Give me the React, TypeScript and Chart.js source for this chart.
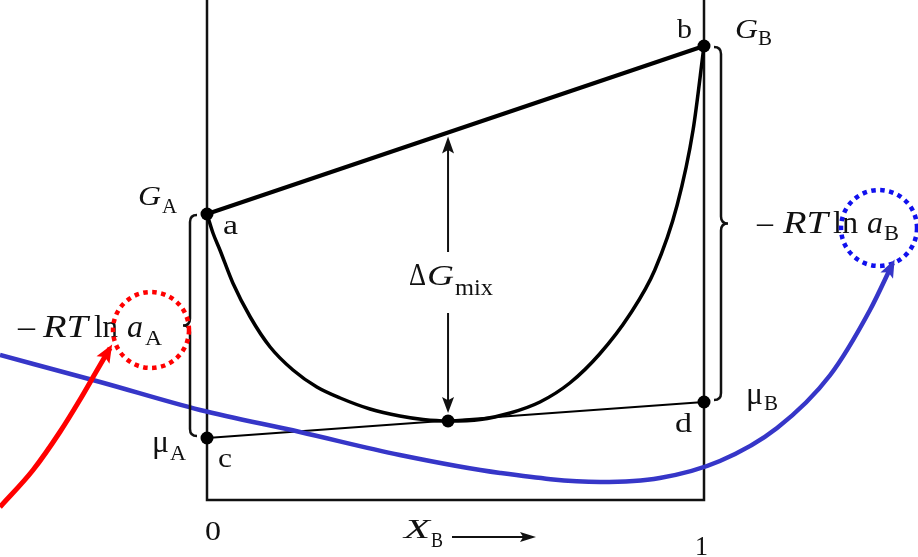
import { useEffect, useRef } from "react";
import { Chart, registerables } from "chart.js";

Chart.register(...registerables);

const SERIF = '"Liberation Serif", "DejaVu Serif", serif';

// Molar free energies of the pure components and chemical potentials (arbitrary units)
const G_A = 2.86;
const G_B = 4.54;
const MU_A = 0.62;
const MU_B = 0.98;
// Composition where the tangent c–d touches the G curve
const X_TANGENT = 0.485;
const G_TANGENT = 0.79;
const G_TOP = 5.0;

// Free energy of the solution vs. mole fraction of B
const curveX = [0, 0.012, 0.026, 0.052, 0.087, 0.127, 0.173, 0.221, 0.268, 0.328, 0.388, 0.435, 0.485, 0.55, 0.61, 0.67, 0.73, 0.79, 0.85, 0.901, 0.946, 0.978, 1];
const curveG = [2.86, 2.67, 2.5, 2.17, 1.83, 1.53, 1.3, 1.13, 1.02, 0.91, 0.84, 0.805, 0.79, 0.805, 0.87, 0.98, 1.17, 1.46, 1.85, 2.3, 2.95, 3.7, 4.54];

// Blue pointer curve towards the a_B label
const blueX = [-0.4165, -0.215, -0.014, 0.187, 0.388, 0.59, 0.791, 0.911, 1.032, 1.147, 1.254, 1.334, 1.38];
const blueG = [1.45, 1.18, 0.9, 0.68, 0.45, 0.27, 0.18, 0.22, 0.39, 0.72, 1.25, 1.9, 2.37];

// Red pointer curve towards the a_A label
const redX = [-0.4165, -0.35, -0.296, -0.256, -0.221, -0.195];
const redG = [-0.07, 0.3, 0.68, 1.0, 1.3, 1.52];

const X_MIN = -207 / 497;
const X_MAX = 711 / 497;
const Y_MIN = -0.57;
const Y_MAX = 5.0;

const BLUE = "#3636c8";
const RED = "#ff0000";

const pts = (xs: number[], ys: number[]) => xs.map((x, i) => ({ x, y: ys[i] }));

type Part = { t: string; x: number; y: number; size: number; w?: number; italic?: boolean };

function drawParts(ctx: CanvasRenderingContext2D, parts: Part[]) {
  ctx.fillStyle = "#111";
  ctx.textAlign = "left";
  ctx.textBaseline = "alphabetic";
  for (const p of parts) {
    ctx.font = `${p.italic ? "italic " : ""}${p.size}px ${SERIF}`;
    const m = ctx.measureText(p.t).width;
    const k = p.w ? p.w / m : 1;
    ctx.save();
    ctx.translate(p.x, p.y);
    ctx.scale(k, 1);
    ctx.fillText(p.t, 0, 0);
    ctx.restore();
  }
}

function brace(ctx: CanvasRenderingContext2D, x: number, y1: number, y2: number, dir: number, r: number) {
  const ym = (y1 + y2) / 2;
  ctx.beginPath();
  ctx.moveTo(x - dir * r, y1);
  ctx.quadraticCurveTo(x, y1, x, y1 + r);
  ctx.lineTo(x, ym - r);
  ctx.quadraticCurveTo(x, ym, x + dir * r, ym);
  ctx.quadraticCurveTo(x, ym, x, ym + r);
  ctx.lineTo(x, y2 - r);
  ctx.quadraticCurveTo(x, y2, x - dir * r, y2);
  ctx.stroke();
}

function arrowHead(ctx: CanvasRenderingContext2D, tx: number, ty: number, angle: number, len: number, half: number, color: string) {
  ctx.save();
  ctx.translate(tx, ty);
  ctx.rotate(angle);
  ctx.fillStyle = color;
  ctx.beginPath();
  ctx.moveTo(0, 0);
  ctx.lineTo(-len, -half);
  ctx.lineTo(-len * 0.8, 0);
  ctx.lineTo(-len, half);
  ctx.closePath();
  ctx.fill();
  ctx.restore();
}

function dottedCircle(ctx: CanvasRenderingContext2D, cx: number, cy: number, r: number, color: string) {
  ctx.save();
  ctx.strokeStyle = color;
  ctx.lineWidth = 4.5;
  ctx.setLineDash([4.5, 4.5]);
  ctx.lineCap = "butt";
  ctx.beginPath();
  ctx.arc(cx, cy, r, 0, Math.PI * 2);
  ctx.stroke();
  ctx.restore();
}

const annotations = {
  id: "annotations",
  afterDatasetsDraw(chart: any) {
    const ctx: CanvasRenderingContext2D = chart.ctx;
    const sx = chart.scales.x;
    const sy = chart.scales.y;
    const px = (v: number) => sx.getPixelForValue(v);
    const py = (v: number) => sy.getPixelForValue(v);

    ctx.save();

    // ΔG_mix double arrow between chord a–b and the curve minimum
    const ax = px(X_TANGENT);
    const yTop = py(G_A + X_TANGENT * (G_B - G_A)) + 4;
    const yBot = py(G_TANGENT) - 8;
    ctx.strokeStyle = "#111";
    ctx.lineWidth = 2;
    ctx.beginPath();
    ctx.moveTo(ax, yTop + 12);
    ctx.lineTo(ax, 252);
    ctx.moveTo(ax, 313);
    ctx.lineTo(ax, yBot - 12);
    ctx.stroke();
    arrowHead(ctx, ax, yTop, -Math.PI / 2, 17, 6, "#111");
    arrowHead(ctx, ax, yBot, Math.PI / 2, 16, 6, "#111");

    // Braces spanning G − μ at each side
    ctx.lineWidth = 2.5;
    ctx.strokeStyle = "#111";
    brace(ctx, px(0) - 17, py(G_A) + 1, py(MU_A) - 2, -1, 7);
    brace(ctx, px(1) + 17, py(G_B) + 1, py(MU_B) - 2, 1, 7);

    // X_B arrow under the axis
    ctx.lineWidth = 2;
    ctx.beginPath();
    ctx.moveTo(452, 537);
    ctx.lineTo(525, 537);
    ctx.stroke();
    arrowHead(ctx, 536, 537, 0, 16, 5, "#111");

    // Labels
    drawParts(ctx, [
      { t: "G", x: 138, y: 205, size: 28, w: 23, italic: true },
      { t: "A", x: 162, y: 213, size: 21, w: 15 },
      { t: "a", x: 223, y: 234, size: 27, w: 15 },
      { t: "b", x: 677, y: 38, size: 27, w: 15 },
      { t: "G", x: 735, y: 38, size: 28, w: 23, italic: true },
      { t: "B", x: 758, y: 45, size: 21, w: 14 },
      { t: "c", x: 218, y: 467, size: 27, w: 14 },
      { t: "d", x: 675, y: 432, size: 27, w: 17 },
      { t: "μ", x: 152, y: 452, size: 31, w: 17 },
      { t: "A", x: 170, y: 460, size: 21, w: 16 },
      { t: "μ", x: 746, y: 404, size: 31, w: 17 },
      { t: "B", x: 764, y: 410, size: 21, w: 14 },
      { t: "0", x: 205, y: 540, size: 28, w: 16 },
      { t: "1", x: 695, y: 555, size: 28, w: 13 },
      { t: "X", x: 404, y: 538, size: 28, w: 26, italic: true },
      { t: "B", x: 431, y: 547, size: 21, w: 12 },
      { t: "Δ", x: 409, y: 285, size: 31, w: 17 },
      { t: "G", x: 427, y: 285, size: 30, w: 27, italic: true },
      { t: "mix", x: 455, y: 295, size: 23, w: 38 },
      // − RT ln a_A
      { t: "–", x: 18, y: 337, size: 31, w: 17 },
      { t: "RT", x: 43, y: 337, size: 31, w: 45, italic: true },
      { t: "ln", x: 94, y: 337, size: 31, w: 24 },
      { t: "a", x: 127, y: 337, size: 31, w: 16, italic: true },
      { t: "A", x: 145, y: 345, size: 22, w: 17 },
      // − RT ln a_B
      { t: "–", x: 757, y: 233, size: 31, w: 16 },
      { t: "RT", x: 783, y: 233, size: 31, w: 45, italic: true },
      { t: "ln", x: 833, y: 233, size: 31, w: 25 },
      { t: "a", x: 867, y: 233, size: 31, w: 16, italic: true },
      { t: "B", x: 884, y: 240, size: 22, w: 15 },
    ]);

    // Dotted highlight circles around the activities
    dottedCircle(ctx, 151, 330, 38, RED);
    dottedCircle(ctx, 879, 228, 38, "#1010ee");

    // Arrow heads at the ends of the pointer curves
    const tip = (dsIndex: number, color: string, len: number, half: number) => {
      const meta = chart.getDatasetMeta(dsIndex);
      const n = meta.data.length;
      const last = meta.data[n - 1];
      let bx = last.cp1x;
      let by = last.cp1y;
      if (bx === undefined || (Math.abs(bx - last.x) < 0.5 && Math.abs(by - last.y) < 0.5)) {
        bx = meta.data[n - 2].x;
        by = meta.data[n - 2].y;
      }
      const ang = Math.atan2(last.y - by, last.x - bx);
      arrowHead(ctx, last.x + Math.cos(ang) * 4, last.y + Math.sin(ang) * 4, ang, len, half, color);
    };
    tip(6, BLUE, 18, 7);
    tip(7, RED, 18, 7.5);

    ctx.restore();
  },
};

export default function App() {
  const ref = useRef<HTMLCanvasElement | null>(null);

  useEffect(() => {
    if (!ref.current) return;
    const line = (data: any[], width: number, color: string, order: number, extra: any = {}) => ({
      data,
      showLine: true,
      borderColor: color,
      backgroundColor: color,
      borderWidth: width,
      pointRadius: 0,
      order,
      ...extra,
    });

    const chart = new Chart(ref.current, {
      type: "scatter",
      data: {
        datasets: [
          // 0: frame – axes at X_B = 0, X_B = 1 and the base line
          line([{ x: 0, y: G_TOP }, { x: 0, y: 0 }, { x: 1, y: 0 }, { x: 1, y: G_TOP }], 2.5, "#111", 6),
          // 1: chord a–b
          line([{ x: 0, y: G_A }, { x: 1, y: G_B }], 4, "#000", 5),
          // 2: tangent c–d
          line([{ x: 0, y: MU_A }, { x: 1, y: MU_B }], 2, "#000", 5),
          // 3: G of the solution
          line(pts(curveX, curveG), 3.5, "#000", 4, { cubicInterpolationMode: "monotone" }),
          // 4: marked points a, b, c, d and the tangent point
          {
            data: [
              { x: 0, y: G_A },
              { x: 1, y: G_B },
              { x: 0, y: MU_A },
              { x: 1, y: MU_B },
              { x: X_TANGENT, y: G_TANGENT },
            ],
            showLine: false,
            pointRadius: 6.5,
            pointBackgroundColor: "#000",
            pointBorderWidth: 0,
            order: 3,
          },
          // 5: empty, keeps the pointer indices stable
          { data: [], showLine: false, pointRadius: 0, order: 3 },
          // 6: blue pointer
          line(pts(blueX, blueG), 4.5, BLUE, 1, { cubicInterpolationMode: "monotone" }),
          // 7: red pointer
          line(pts(redX, redG), 5, RED, 0, { cubicInterpolationMode: "monotone" }),
        ],
      },
      options: {
        animation: false,
        responsive: false,
        devicePixelRatio: 1,
        events: [],
        layout: { padding: 0, autoPadding: false },
        plugins: { legend: { display: false }, tooltip: { enabled: false } },
        scales: {
          x: { type: "linear", min: X_MIN, max: X_MAX, display: false },
          y: { type: "linear", min: Y_MIN, max: Y_MAX, display: false },
        },
      },
      plugins: [annotations],
    });
    return () => chart.destroy();
  }, []);

  return (
    <div style={{ position: "fixed", left: 0, top: 0, width: 918, height: 557, background: "#fff" }}>
      <canvas ref={ref} width={918} height={557} style={{ display: "block" }} />
    </div>
  );
}
